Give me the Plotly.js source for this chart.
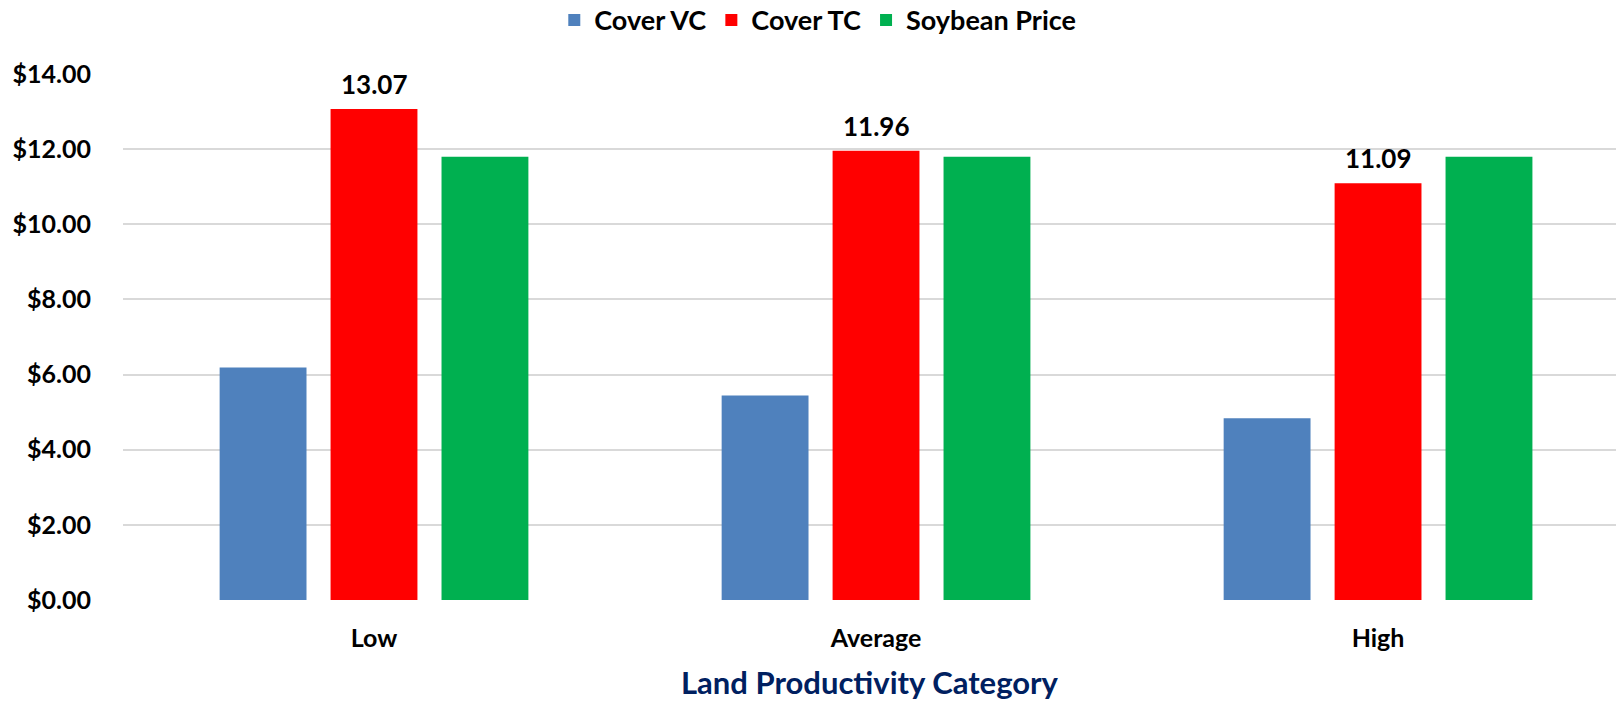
<!DOCTYPE html>
<html>
<head>
<meta charset="utf-8">
<script src="https://cdn.plot.ly/plotly-3.0.1.min.js"></script>
<style>
  html, body { margin: 0; padding: 0; background: #ffffff; }
  #chart { width: 1616px; height: 701px; }
</style>
</head>
<body>
<div id="chart"></div>
<script>
// ---- Data ----
const categories = ["Low", "Average", "High"];
const coverVC = [6.19, 5.44, 4.84];
const coverTC = [13.07, 11.96, 11.09];
const soybeanPrice = [11.80, 11.80, 11.80];
const seriesNames = ["Cover VC", "Cover TC", "Soybean Price"];
const yTickValues = [0, 2, 4, 6, 8, 10, 12, 14];
const yTickLabels = ["$0.00", "$2.00", "$4.00", "$6.00", "$8.00", "$10.00", "$12.00", "$14.00"];
const xAxisTitle = "Land Productivity Category";

// ---- Styles ----
const FONT = "Lato, 'Open Sans', sans-serif";
const colors = ["#4f81bd", "#ff0000", "#00b050"];

const traces = [coverVC, coverTC, soybeanPrice].map((vals, i) => ({
  type: "bar",
  name: seriesNames[i],
  x: categories,
  y: vals,
  marker: { color: colors[i], line: { width: 0 } },
  hoverinfo: "x+y+name"
}));

const annotations = categories.map((c, i) => ({
  x: c,
  y: coverTC[i],
  xref: "x",
  yref: "y",
  text: coverTC[i].toFixed(2),
  showarrow: false,
  yanchor: "bottom",
  xanchor: "center",
  yshift: 7,
  font: { family: FONT, size: 26, color: "#000000", weight: 700 }
}));

const layout = {
  width: 1616,
  height: 701,
  paper_bgcolor: "#ffffff",
  plot_bgcolor: "#ffffff",
  margin: { l: 123, r: 0, t: 74, b: 101, pad: 0 },
  barmode: "group",
  bargap: 0.337,
  bargroupgap: 0.217,
  font: { family: FONT, color: "#000000" },
  showlegend: true,
  legend: {
    orientation: "h",
    xref: "container",
    yref: "container",
    x: 0.343,
    xanchor: "left",
    y: 0.971,
    yanchor: "middle",
    font: { family: FONT, size: 27, color: "#000000", weight: 700 },
    bgcolor: "rgba(0,0,0,0)",
    traceorder: "normal",
    itemclick: false
  },
  xaxis: {
    type: "category",
    range: [-0.5, 2.474],
    showgrid: false,
    zeroline: false,
    showline: false,
    ticks: "outside",
    ticklen: 16,
    tickcolor: "rgba(0,0,0,0)",
    tickfont: { family: FONT, size: 25, color: "#000000", weight: 700 },
    automargin: false,
    title: {
      text: xAxisTitle,
      font: { family: FONT, size: 31, color: "#002060", weight: 700 },
      standoff: 23
    }
  },
  yaxis: {
    range: [0, 14],
    tickvals: yTickValues,
    ticktext: yTickLabels,
    showgrid: true,
    gridcolor: "#d9d9d9",
    gridwidth: 2,
    zeroline: false,
    showline: false,
    ticks: "outside",
    ticklen: 26,
    tickcolor: "rgba(0,0,0,0)",
    tickfont: { family: FONT, size: 25, color: "#000000", weight: 700 },
    automargin: false,
    fixedrange: true
  },
  annotations: annotations
};

Plotly.newPlot("chart", traces, layout, { displayModeBar: false, staticPlot: true });
</script>
</body>
</html>
